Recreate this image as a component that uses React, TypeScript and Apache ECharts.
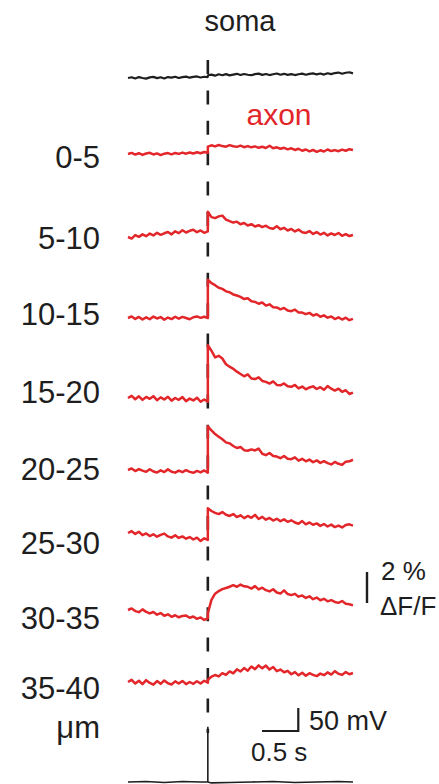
import React, { useEffect, useRef } from "react";
import * as echarts from "echarts";

// ---------- data ----------
const AXON_LABELS = ["0-5", "5-10", "10-15", "15-20", "20-25", "25-30", "30-35", "35-40"];
const STIM_T = 1.1; // s
const DT = 0.05; // s sampling
const PRE_N = 23; // samples t = 0 .. 1.10
const POST_N = 41; // samples t = 1.10 .. 3.10 (after step)

// soma fluorescence (%ΔF/F)
const SOMA_PRE = [0.00, 0.05, -0.03, 0.06, 0.00, -0.04, 0.04, 0.07, -0.01, 0.05, -0.03, 0.06, 0.02, 0.08, 0.00, 0.06, 0.09, 0.02, 0.07, 0.10, 0.03, 0.08, 0.05];
const SOMA_POST = [0.18, 0.22, 0.15, 0.24, 0.18, 0.25, 0.17, 0.22, 0.27, 0.19, 0.26, 0.21, 0.18, 0.25, 0.28, 0.20, 0.26, 0.19, 0.24, 0.29, 0.21, 0.27, 0.20, 0.25, 0.19, 0.24, 0.28, 0.21, 0.27, 0.30, 0.23, 0.29, 0.22, 0.31, 0.25, 0.32, 0.35, 0.27, 0.34, 0.37, 0.30];

// axon segments (%ΔF/F)
const AX1_PRE = [0.00, 0.07, -0.04, 0.05, -0.06, 0.03, 0.08, -0.03, 0.04, -0.07, 0.02, 0.06, -0.02, 0.07, 0.01, 0.09, 0.02, 0.10, 0.03, 0.11, 0.05, 0.13, 0.08];
const AX1_POST = [0.48, 0.56, 0.49, 0.58, 0.51, 0.47, 0.57, 0.50, 0.46, 0.54, 0.44, 0.51, 0.43, 0.49, 0.40, 0.47, 0.39, 0.53, 0.37, 0.43, 0.34, 0.40, 0.30, 0.37, 0.26, 0.34, 0.21, 0.29, 0.17, 0.26, 0.14, 0.24, 0.16, 0.29, 0.19, 0.25, 0.18, 0.28, 0.21, 0.31, 0.26];
const AX2_PRE = [0.00, -0.10, 0.12, 0.01, 0.17, 0.05, 0.22, 0.10, 0.27, 0.14, 0.24, 0.32, 0.17, 0.37, 0.25, 0.44, 0.29, 0.40, 0.47, 0.31, 0.42, 0.27, 0.36];
const AX2_POST = [1.63, 1.28, 1.22, 1.33, 1.38, 1.12, 1.02, 0.93, 0.99, 0.82, 0.90, 0.74, 0.83, 0.68, 0.76, 0.64, 0.73, 0.58, 0.53, 0.70, 0.50, 0.59, 0.42, 0.52, 0.36, 0.48, 0.31, 0.26, 0.38, 0.20, 0.32, 0.16, 0.27, 0.10, 0.23, 0.13, 0.26, 0.08, 0.19, 0.06, 0.13];
const AX3_PRE = [0.00, 0.10, -0.06, 0.07, -0.10, 0.04, -0.08, 0.09, -0.03, 0.06, -0.11, 0.03, -0.07, 0.08, -0.04, 0.07, 0.00, -0.08, 0.05, 0.10, 0.01, 0.08, 0.00];
const AX3_POST = [2.47, 2.25, 2.12, 1.95, 1.88, 1.72, 1.66, 1.52, 1.45, 1.36, 1.22, 1.27, 1.08, 1.04, 0.92, 1.00, 0.80, 0.88, 0.70, 0.68, 0.56, 0.65, 0.48, 0.44, 0.54, 0.36, 0.35, 0.25, 0.33, 0.16, 0.24, 0.08, 0.17, 0.02, 0.10, -0.07, 0.04, -0.10, 0.02, -0.14, -0.06];
const AX4_PRE = [0.00, 0.14, -0.08, 0.11, -0.12, 0.07, -0.05, 0.12, -0.14, 0.04, -0.10, 0.08, -0.17, 0.00, -0.12, 0.06, -0.20, -0.04, -0.16, 0.02, -0.24, -0.10, -0.24];
const AX4_POST = [3.40, 3.05, 2.62, 2.72, 2.55, 2.18, 2.02, 1.88, 1.70, 1.55, 1.40, 1.52, 1.26, 1.22, 1.33, 1.10, 1.04, 0.93, 1.07, 0.84, 0.82, 0.94, 0.76, 0.72, 0.84, 0.62, 0.74, 0.56, 0.68, 0.75, 0.58, 0.70, 0.53, 0.77, 0.60, 0.48, 0.60, 0.40, 0.50, 0.26, 0.35];
const AX5_PRE = [0.00, 0.10, -0.07, 0.06, -0.04, -0.12, 0.05, -0.10, -0.16, -0.02, -0.13, 0.04, -0.11, -0.17, -0.04, -0.14, -0.01, -0.12, -0.18, -0.06, -0.15, -0.03, -0.17];
const AX5_POST = [2.82, 2.55, 2.32, 2.15, 1.98, 1.78, 1.72, 1.55, 1.42, 1.48, 1.28, 1.24, 1.33, 1.26, 1.38, 1.05, 0.96, 1.10, 0.90, 0.87, 0.76, 0.90, 0.72, 0.70, 0.82, 0.60, 0.72, 0.56, 0.67, 0.50, 0.62, 0.46, 0.57, 0.44, 0.36, 0.52, 0.40, 0.33, 0.54, 0.56, 0.66];
const AX6_PRE = [0.00, 0.12, -0.06, 0.08, -0.14, -0.03, -0.20, -0.08, -0.24, -0.12, -0.04, -0.22, -0.30, -0.14, -0.32, -0.22, -0.37, -0.26, -0.42, -0.30, -0.52, -0.34, -0.45];
const AX6_POST = [1.60, 1.42, 1.30, 1.22, 1.35, 1.18, 1.10, 1.22, 1.03, 1.14, 0.96, 1.10, 0.98, 1.17, 0.90, 1.04, 0.86, 0.97, 0.80, 0.92, 0.76, 0.88, 0.72, 0.82, 0.68, 0.60, 0.77, 0.56, 0.68, 0.53, 0.62, 0.46, 0.58, 0.42, 0.54, 0.38, 0.48, 0.36, 0.52, 0.56, 0.48];
const AX7_PRE = [0.00, 0.10, -0.07, -0.14, 0.04, -0.12, -0.22, -0.13, -0.30, -0.20, -0.37, -0.28, -0.44, -0.34, -0.47, -0.38, -0.36, -0.50, -0.42, -0.57, -0.48, -0.64, -0.54];
const AX7_POST = [-0.20, 0.65, 1.05, 1.22, 1.35, 1.42, 1.50, 1.60, 1.50, 1.64, 1.53, 1.50, 1.38, 1.54, 1.33, 1.44, 1.28, 1.20, 1.34, 1.13, 1.06, 1.27, 1.03, 0.96, 1.04, 0.86, 0.94, 0.78, 0.88, 0.70, 0.80, 0.63, 0.72, 0.56, 0.64, 0.52, 0.46, 0.58, 0.40, 0.37, 0.30];
const AX8_PRE = [0.00, 0.14, -0.10, 0.08, -0.14, 0.12, -0.06, -0.17, 0.06, -0.12, 0.10, -0.08, -0.16, 0.04, -0.10, 0.07, -0.14, 0.00, -0.12, 0.05, -0.10, 0.08, -0.05];
const AX8_POST = [0.15, 0.34, 0.45, 0.36, 0.57, 0.46, 0.68, 0.56, 0.82, 0.68, 0.90, 0.73, 1.00, 0.83, 1.07, 0.88, 1.06, 0.80, 0.97, 0.70, 0.80, 0.63, 0.72, 0.50, 0.64, 0.43, 0.60, 0.40, 0.57, 0.46, 0.38, 0.54, 0.44, 0.62, 0.48, 0.70, 0.53, 0.46, 0.64, 0.50, 0.58];

const AXON_PRE = [AX1_PRE, AX2_PRE, AX3_PRE, AX4_PRE, AX5_PRE, AX6_PRE, AX7_PRE, AX8_PRE];
const AXON_POST = [AX1_POST, AX2_POST, AX3_POST, AX4_POST, AX5_POST, AX6_POST, AX7_POST, AX8_POST];

// somatic membrane potential (mV relative to rest), single spike at stimulus
const VOLT_T = [0, 0.25, 0.5, 0.75, 1.0, 1.1, 1.1, 1.1, 1.15, 1.4, 1.7, 2.0, 2.3, 2.6, 2.9, 3.1];
const VOLT_MV = [0, 1, -1, 1, 0, 0, 120, 0, -2, -1, 0, 1, -1, 0, 1, 0];

// scale bars
const SCALE_PCT = 2; // % ΔF/F
const SCALE_S = 0.5; // s
const SCALE_MV = 50; // mV

// ---------- layout ----------
const W = 439;
const H = 784;
const GRID_LEFT = 128;
const PX_PER_S = 72.58;
const PX_PER_PCT = 15.5;
const PX_PER_MV = 0.46;
const SOMA_BASE = 78;
const AXON_BASE = [154, 237, 318, 398, 470, 533, 610, 682];
const VOLT_BASE = 782;
const LABEL_Y = [157, 238, 314, 392, 469, 543, 618, 688];
const RED = "#e2262a";
const INK = "#1e1e1e";
const FONT = "'Liberation Sans', Arial, sans-serif";

function timeAxis(): number[] {
  const t: number[] = [];
  for (let i = 0; i < PRE_N; i++) t.push(Math.round(i * DT * 1000) / 1000);
  for (let j = 0; j < POST_N; j++) t.push(Math.round((STIM_T + j * DT) * 1000) / 1000);
  return t;
}

function traceData(base: number, pre: number[], post: number[]) {
  const t = timeAxis();
  const v = [...pre, ...post];
  return v.map((val, i) => [t[i], base - val * PX_PER_PCT]);
}

export default function App() {
  const ref = useRef<HTMLDivElement>(null);
  useEffect(() => {
    if (!ref.current) return;
    const chart = echarts.init(ref.current, undefined, { renderer: "svg" });
    const xMax = (W - GRID_LEFT) / PX_PER_S;

    const series: any[] = [];
    series.push({
      type: "line",
      name: "soma",
      data: traceData(SOMA_BASE, SOMA_PRE, SOMA_POST),
      showSymbol: false,
      lineStyle: { color: INK, width: 2.2 },
      z: 3,
    });
    AXON_LABELS.forEach((name, k) => {
      series.push({
        type: "line",
        name,
        data: traceData(AXON_BASE[k], AXON_PRE[k], AXON_POST[k]),
        showSymbol: false,
        lineStyle: { color: RED, width: 2.5, join: "round" },
        z: 3,
      });
    });
    // membrane potential
    series.push({
      type: "line",
      name: "Vm",
      data: VOLT_T.map((t, i) => [t, VOLT_BASE - VOLT_MV[i] * PX_PER_MV]),
      showSymbol: false,
      lineStyle: { color: INK, width: 1.6 },
      z: 3,
    });
    // stimulus dashed line
    series.push({
      type: "line",
      name: "stim",
      data: [
        [STIM_T, 60],
        [STIM_T, 733],
      ],
      showSymbol: false,
      lineStyle: { color: INK, width: 2.6, type: [14, 16.4] },
      z: 2,
    });
    // scale bar 2 %ΔF/F
    const barT = (367 - GRID_LEFT) / PX_PER_S;
    series.push({
      type: "line",
      name: "bar%",
      data: [
        [barT, 603],
        [barT, 603 - SCALE_PCT * PX_PER_PCT],
      ],
      showSymbol: false,
      clip: false,
      lineStyle: { color: INK, width: 2.4 },
    });
    // scale bar 0.5 s / 50 mV
    const t0 = (262 - GRID_LEFT) / PX_PER_S;
    series.push({
      type: "line",
      name: "barV",
      data: [
        [t0, 731],
        [t0 + SCALE_S, 731],
        [t0 + SCALE_S, 731 - SCALE_MV * PX_PER_MV],
      ],
      showSymbol: false,
      clip: false,
      lineStyle: { color: INK, width: 2.2, join: "miter" },
    });

    const txt = (text: string, x: number, y: number, opts: any = {}) => ({
      type: "text",
      x,
      y,
      style: {
        text,
        fill: opts.fill || INK,
        font: `${opts.size || 28}px ${FONT}`,
        textAlign: opts.align || "left",
        textVerticalAlign: "middle",
      },
    });

    const graphics: any[] = [
      txt("soma", 240, 21, { align: "center", size: 29 }),
      txt("axon", 279, 114, { align: "center", size: 30, fill: RED }),
      ...AXON_LABELS.map((l, k) => txt(l, 100, LABEL_Y[k], { align: "right", size: 31 })),
      txt("μm", 100, 727, { align: "right", size: 31 }),
      txt("2 %", 381, 571, { size: 26 }),
      txt("ΔF/F", 380, 606, { size: 26 }),
      txt("50 mV", 309, 721, { size: 27 }),
      txt("0.5 s", 251, 752, { size: 26 }),
    ];

    chart.setOption({
      animation: false,
      backgroundColor: "#ffffff",
      grid: { left: GRID_LEFT, right: 0, top: 0, bottom: 0, containLabel: false },
      xAxis: {
        type: "value",
        min: 0,
        max: xMax,
        show: false,
      },
      yAxis: {
        type: "value",
        min: 0,
        max: H,
        inverse: true,
        show: false,
      },
      series,
      graphic: graphics,
    });
    return () => chart.dispose();
  }, []);
  return (
    <div
      ref={ref}
      style={{ position: "fixed", left: 0, top: 0, width: W, height: H, background: "#fff" }}
    />
  );
}
